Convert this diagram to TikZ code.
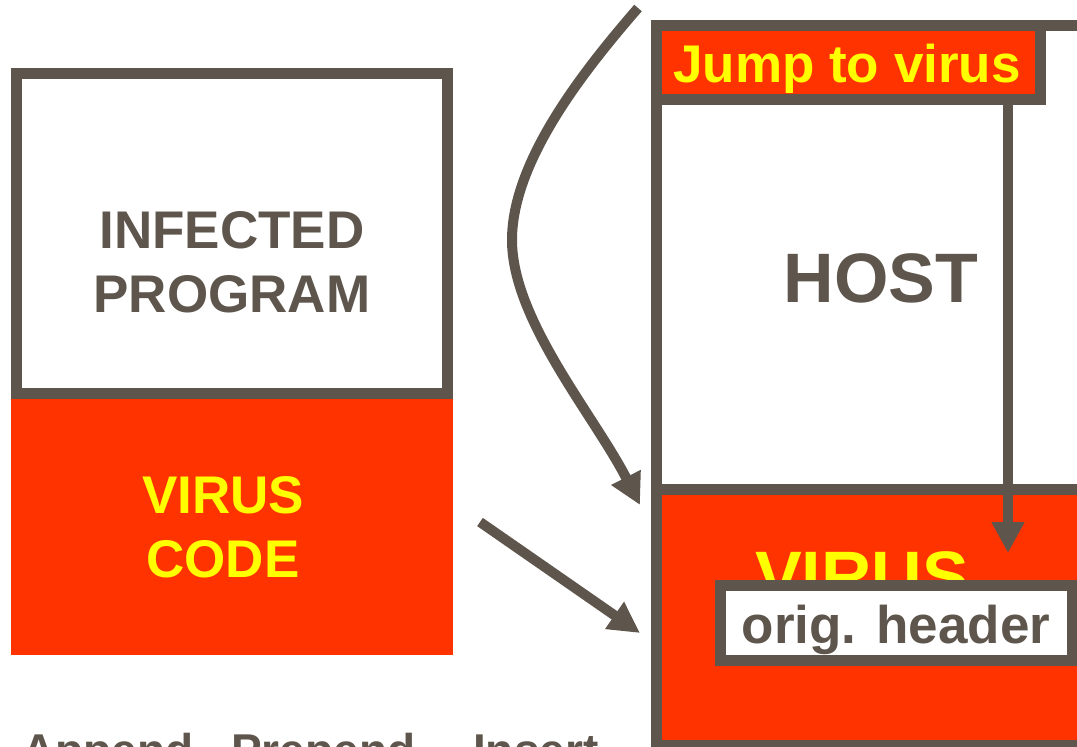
\documentclass[tikz,border=0pt]{standalone}
\usepackage{fontspec}
\setmainfont{Liberation Sans}
\usetikzlibrary{arrows.meta}
\definecolor{vgray}{RGB}{94,86,77}
\definecolor{vred}{RGB}{255,51,0}
\definecolor{vyellow}{RGB}{255,255,0}
\tikzset{
  frame/.style={draw=vgray, line width=11pt},
  conn/.style={draw=vgray, line width=10pt, -{Triangle[length=31pt,width=31pt]}},
  txt/.style={inner sep=0pt, anchor=base, font=\bfseries\fontsize{53}{59}\selectfont},
  bigtxt/.style={inner sep=0pt, anchor=base, font=\bfseries\fontsize{70}{76}\selectfont},
  bottxt/.style={inner sep=0pt, anchor=base west, text=vgray, font=\bfseries\fontsize{46}{50}\selectfont}
}
\begin{document}
\begin{tikzpicture}[x=1pt,y=-1pt]
\useasboundingbox (0,0) rectangle (1077,747);
\clip (0,0) rectangle (1077,747);
% left stack
\fill[vred] (11,393) rectangle (453,655);
\filldraw[frame, fill=white] (16.5,73.5) rectangle (447.5,393.5);
\node[txt, text=vgray] (inf) at (232,248) {INFECTED};
\node[txt, text=vgray] (prog) at (232,312) {PROGRAM};
\node[txt, text=vyellow] (vir1) at (223,513) {VIRUS};
\node[txt, text=vyellow] (code) at (223,577) {CODE};
% right stack
\fill[white] (651,20) rectangle (1100,760);
\fill[vred] (656,489) rectangle (1100,750);
\draw[frame] (656.5,25.5) rectangle (1110,745.5);
\draw[frame] (651,489.5) -- (1110,489.5);
\filldraw[frame, fill=vred] (656.5,25.5) rectangle (1040.5,99.5);
\node[txt, text=vyellow] (jump) at (847,82) {Jump to virus};
\node[bigtxt, text=vgray] (host) at (881,302) {HOST};
\node[bigtxt, text=vyellow] (vir2) at (862,600) {VIRUS};
\filldraw[frame, fill=white] (720.5,585.5) rectangle (1072,660);
\node[txt, text=vgray] (orig) at (896,643) {orig. header};
% connectors
\coordinate (jb) at (1008,105);
\coordinate (jt) at (1008,553);
\draw[conn] (jb) -- (jt);
\coordinate (cs) at (638,8);
\coordinate (cm) at (512,240);
\coordinate (ce) at (640,505);
\draw[conn] (cs) .. controls (586,68) and (512,160) .. (cm)
                 .. controls (512,320) and (594.6,416) .. (ce);
\coordinate (ss) at (480,522);
\coordinate (se) at (640,633);
\draw[conn] (ss) -- (se);
% bottom labels
\node[bottxt] (app) at (22,766) {Append};
\node[bottxt] (pre) at (231,766) {Prepend};
\node[bottxt] (ins) at (473,766) {Insert};
\end{tikzpicture}
\end{document}
